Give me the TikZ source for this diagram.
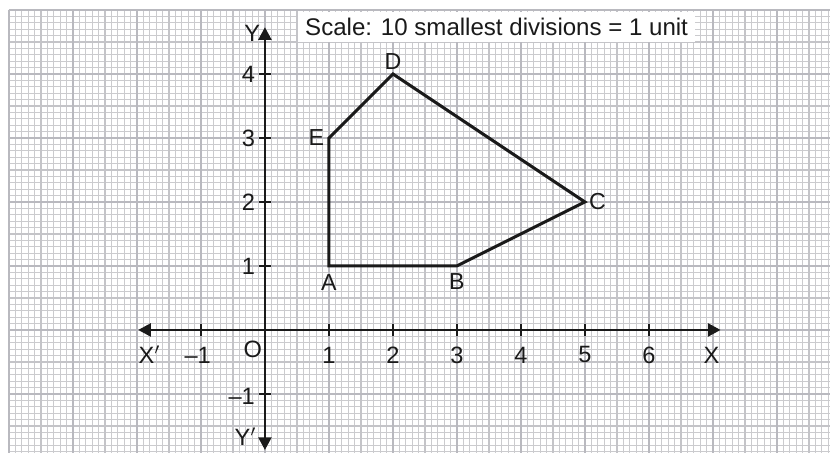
\documentclass[tikz,border=0pt]{standalone}
\usepackage{fontspec}
\setmainfont{Liberation Sans}
\usepackage{xcolor}
\definecolor{cInk}{HTML}{1A1A1A}
\definecolor{cGridMinor}{HTML}{CBCBCE}
\definecolor{cGridMid}{HTML}{C4C4C8}
\definecolor{cGridMajor}{HTML}{B9B9BF}
\usepackage{tikz}
\usetikzlibrary{positioning,arrows.meta}
\tikzset{
  grid-minor/.style={draw=cGridMinor,line width=0.5pt},
  grid-mid/.style={draw=cGridMid,line width=0.65pt},
  grid-major/.style={draw=cGridMajor,line width=1pt},
  axis-line/.style={{Triangle[length=5.6pt,width=5.8pt]}-{Triangle[length=5.6pt,width=5.8pt]},
    line width=0.95pt,draw=cInk},
  axis-tick/.style={line width=0.6pt,draw=cInk},
  axis-num/.style={font=\fontsize{10.5}{12}\selectfont,text=cInk,inner sep=0pt},
  pt-label/.style={font=\fontsize{10.3}{12}\selectfont,text=cInk,inner sep=0pt},
  poly-edge/.style={line width=1.35pt,draw=cInk},
  % white patch behind the scale note
  scale-box/.style={fill=white,minimum width=6.2cm,minimum height=0.47cm,
    font=\fontsize{10.7}{13}\selectfont,text=cInk,inner sep=0pt},
}

\begin{document}
\begin{tikzpicture}
  \useasboundingbox (-4.14,-1.92) rectangle (8.83,5.156);
  % graph paper
  \begin{scope}
    \clip (-4.03,-1.92) rectangle (8.83,5.03);
    \draw[grid-minor] (-4,-2) grid[step=0.1] (9,5);
    \draw[grid-mid]   (-4,-2) grid[step=0.5] (9,5);
    \draw[grid-major] (-4,-2) grid[step=1]   (9,5);
  \end{scope}
  \node[scale-box] (scale) at (3.62,4.73) {Scale: 10 smallest divisions = 1 unit};

  % axes
  \coordinate (xl) at (-1.98,0);
  \coordinate (xr) at (7.12,0);
  \coordinate (yb) at (0,-1.875);
  \coordinate (yt) at (0,4.73);
  \draw[axis-line] (xl) -- (xr);
  \draw[axis-line] (yb) -- (yt);
  \foreach \x in {-1,1,2,...,6} \draw[axis-tick] (\x,-0.1) -- (\x,0.1);
  \foreach \y in {-1,1,2,3,4} \draw[axis-tick] (-0.1,\y) -- (0.1,\y);

  \foreach \x in {1,...,6} \node[axis-num] (nx\x) at (\x,-0.39) {\x};
  \node[axis-num] (nxm) at (-1.05,-0.39) {–1};
  \foreach \y in {1,...,4} \node[axis-num,anchor=east] (ny\y) at (-0.15,\y) {\y};
  \node[axis-num,anchor=east] (nym) at (-0.15,-1.04) {–1};
  \node[axis-num] (lO)  at (-0.19,-0.31) {O};
  \node[axis-num] (lX)  at (6.98,-0.39)  {X};
  \node[axis-num] (lXp) at (-1.8,-0.39)  {X$'$};
  \node[axis-num] (lY)  at (-0.2,4.64)   {Y};
  \node[axis-num] (lYp) at (-0.3,-1.67)  {Y$'$};

  % pentagon ABCDE
  \coordinate (A) at (1,1);
  \coordinate (B) at (3,1);
  \coordinate (C) at (5,2);
  \coordinate (D) at (2,4);
  \coordinate (E) at (1,3);
  \draw[poly-edge] (A) -- (B) -- (C) -- (D) -- (E) -- cycle;
  \node[pt-label,below=0.13cm of A] (lA) {A};
  \node[pt-label,below=0.11cm of B] (lB) {B};
  \node[pt-label,right=0.06cm of C] (lC) {C};
  \node[pt-label,above=0.06cm of D] (lD) {D};
  \node[pt-label,left=0.07cm of E]  (lE) {E};
\end{tikzpicture}
\end{document}
